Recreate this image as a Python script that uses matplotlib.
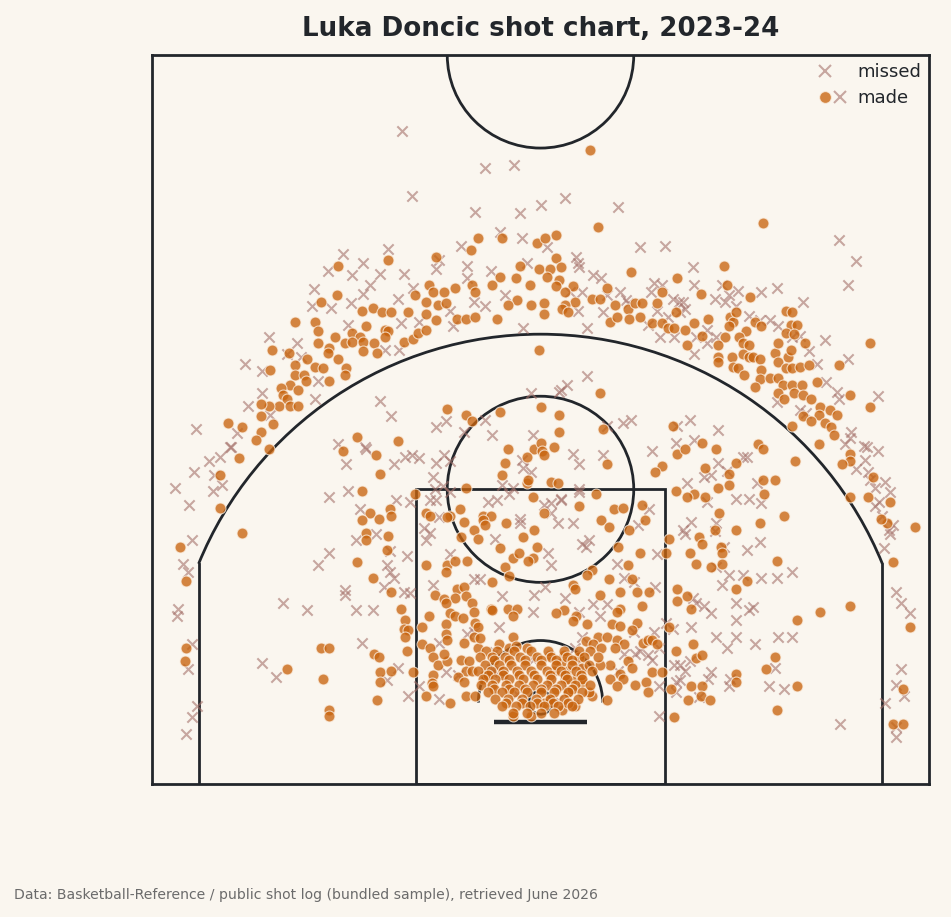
import numpy as np
import matplotlib.pyplot as plt
from matplotlib.patches import Circle, Rectangle, Arc
from matplotlib.lines import Line2D
from matplotlib.legend_handler import HandlerTuple

# court coordinates in feet: x across the baseline (0-50), y up from the baseline (0-47)

# ---- made shots ----
made_deep = [(28.2, 40.9), (39.3, 36.2), (28.7, 35.9)]
made_corners = [(5.8, 16.2), (1.8, 15.3), (2.2, 13.1), (2.2, 8.8), (2.1, 7.9),
                (49.1, 16.6), (47.7, 14.3), (48.8, 10.1), (48.3, 6.1), (47.7, 3.9),
                (48.3, 3.9), (44.9, 11.5), (47.3, 16.8)]
made_left_wing = [
    (12.0, 33.4), (15.2, 33.8), (18.3, 34.0), (20.5, 34.4), (21.0, 35.2), (22.5, 35.2),
    (23.7, 33.4), (11.9, 31.5), (10.9, 31.1), (13.5, 30.5), (14.2, 30.7), (14.8, 30.4),
    (15.4, 30.4), (16.5, 30.4), (16.9, 31.5), (17.8, 32.2), (18.1, 31.7), (18.8, 31.7),
    (19.5, 32.0), (20.6, 32.2), (20.8, 31.7), (21.9, 32.2), (22.4, 32.7), (23.4, 32.6),
    (23.5, 31.2), (24.3, 32.2), (24.4, 30.9), (17.6, 31.1), (18.4, 30.9), (18.9, 31.0),
    (17.6, 30.3), (18.3, 29.9), (19.6, 30.0), (20.2, 30.0), (20.8, 30.1), (22.2, 30.0),
    (22.9, 30.9), (9.2, 29.8), (10.5, 29.8), (10.7, 29.2), (11.8, 28.8), (10.7, 28.4),
    (11.4, 28.1), (12.9, 29.1), (13.4, 28.8), (13.8, 29.5), (12.4, 28.4), (12.9, 28.5),
    (13.6, 28.5), (14.3, 28.4), (15.0, 29.3), (15.2, 29.2), (15.0, 28.8), (16.2, 28.5),
    (16.8, 28.7), (17.1, 29.1), (17.6, 29.3), (14.5, 27.8), (13.6, 27.9), (12.0, 27.4),
    (11.3, 27.8), (7.7, 28.0), (8.8, 27.8), (10.0, 27.4), (10.5, 26.9), (11.0, 26.8),
    (9.2, 27.0), (12.5, 26.8), (12.4, 26.4), (11.4, 26.0), (9.2, 26.4), (9.8, 26.4),
    (9.9, 26.0), (8.9, 25.7), (9.4, 25.4), (8.3, 25.5), (8.4, 25.1), (8.7, 24.8),
    (7.6, 26.7), (8.2, 24.4), (8.9, 24.4), (9.4, 24.4), (7.5, 24.4), (7.0, 24.5),
    (7.0, 23.7), (7.8, 23.2), (4.9, 23.3), (5.8, 23.0), (7.0, 22.7), (6.7, 22.2),
    (7.5, 21.6), (19.0, 24.2), (20.2, 23.8), (20.6, 23.4), (22.4, 24.0), (22.9, 21.6),
    (13.2, 22.4), (15.8, 22.1), (12.3, 21.5), (14.4, 21.2), (24.9, 28.0), (24.8, 34.9),
    (24.9, 33.2), (5.6, 21.0), (4.4, 19.9), (4.4, 17.8)]
made_right_wing = [
    (26.0, 35.4), (25.3, 35.2), (26.0, 33.9), (26.3, 33.3), (25.6, 33.2), (25.4, 32.7),
    (26.2, 32.5), (26.0, 32.1), (27.1, 32.1), (26.6, 31.7), (27.2, 31.1), (26.6, 30.9),
    (26.4, 30.6), (26.8, 30.4), (25.2, 31.0), (25.2, 30.3), (30.8, 33.0), (29.3, 32.0),
    (28.3, 31.3), (28.8, 31.3), (29.8, 30.9), (29.5, 29.8), (29.9, 30.1), (30.6, 30.6),
    (30.7, 30.0), (31.1, 31.0), (31.5, 31.0), (31.4, 30.1), (32.5, 31.0), (32.8, 31.7),
    (33.8, 32.6), (33.7, 30.4), (32.2, 29.7), (32.8, 29.7), (33.2, 29.4), (33.6, 29.4),
    (34.3, 29.3), (34.9, 29.7), (35.4, 28.9), (34.4, 28.3), (35.3, 31.6), (36.8, 33.4),
    (37.0, 32.2), (38.5, 31.4), (37.2, 30.1), (37.4, 29.8), (37.6, 30.4), (35.8, 30.0),
    (37.1, 29.5), (38.2, 29.2), (36.9, 28.8), (36.4, 28.3), (37.8, 28.8), (38.0, 28.4),
    (38.4, 28.3), (38.8, 29.8), (39.2, 29.5), (40.8, 30.5), (41.2, 30.4), (41.1, 29.6),
    (41.5, 29.6), (40.8, 29.1), (41.3, 29.0), (36.4, 27.5), (36.4, 27.2), (37.3, 27.5),
    (37.4, 26.9), (37.7, 26.8), (38.0, 27.7), (38.4, 27.5), (38.7, 27.5), (38.1, 26.4),
    (39.1, 27.4), (39.2, 26.7), (39.1, 26.1), (38.8, 25.6), (39.8, 26.2), (40.3, 26.2),
    (40.1, 27.8), (40.3, 28.4), (40.9, 27.5), (41.1, 28.0), (42.0, 28.4), (40.3, 27.2),
    (40.8, 26.8), (41.2, 26.8), (41.7, 26.9), (42.3, 27.0), (40.6, 25.7), (41.2, 25.7),
    (41.8, 25.7), (41.3, 25.2), (41.9, 25.1), (40.3, 25.2), (40.7, 24.8), (42.4, 24.8),
    (42.8, 25.9), (43.0, 24.3), (43.6, 24.1), (42.9, 23.8), (43.3, 23.3), (43.7, 23.0),
    (43.9, 22.5), (44.1, 23.8), (44.2, 27.0), (44.9, 25.1), (46.2, 24.3), (46.2, 28.4),
    (41.2, 23.1), (41.9, 23.7), (42.4, 23.4), (42.9, 21.9), (44.9, 21.3), (28.8, 25.2),
    (26.2, 23.8), (26.2, 22.7), (25.9, 21.7), (29.0, 22.9), (33.5, 23.1), (35.4, 22.0),
    (36.3, 21.6), (39.0, 21.9), (39.3, 21.6), (33.8, 21.3), (34.3, 21.6), (32.8, 20.5),
    (41.4, 20.8), (44.9, 20.8), (44.4, 20.6), (44.9, 18.5), (46.1, 18.5), (46.4, 19.8),
    (47.5, 18.2), (46.9, 17.1)]
made_mid = [
    (25.0, 24.3), (24.6, 21.6), (25.0, 22.0), (25.1, 21.5), (25.2, 21.2), (24.1, 21.1),
    (22.7, 20.7), (22.5, 19.9), (24.1, 19.4), (24.2, 19.6), (25.7, 19.5), (26.1, 19.4),
    (29.3, 20.6), (20.2, 19.1), (24.5, 18.5), (27.5, 17.9), (28.6, 18.7), (29.7, 17.7),
    (30.3, 17.8), (31.5, 18.0), (32.4, 20.1), (19.8, 17.7), (19.2, 17.3), (21.3, 17.3),
    (21.8, 17.3), (25.2, 17.5), (8.7, 7.4), (10.9, 8.8), (11.4, 8.8), (11.0, 6.8),
    (11.4, 4.8), (11.4, 4.4), (14.7, 20.0), (13.5, 18.9), (14.0, 17.5), (14.6, 17.1),
    (13.5, 17.0), (13.8, 16.2), (13.8, 15.7), (15.3, 17.7), (15.4, 17.3), (15.2, 16.0),
    (15.1, 15.1), (13.2, 14.3), (14.2, 13.3), (15.4, 12.4), (16.0, 11.3), (16.3, 10.6),
    (16.2, 10.0), (16.5, 9.9), (16.3, 9.5), (16.4, 8.6), (14.3, 8.4), (14.6, 8.2),
    (14.7, 7.2), (14.7, 6.6), (15.4, 7.3), (16.8, 7.2), (14.5, 5.4), (16.9, 18.7),
    (17.6, 17.5), (17.9, 17.3), (19.0, 17.2), (20.1, 16.9), (20.7, 16.4), (21.0, 15.8),
    (19.9, 15.9), (22.8, 16.8), (21.3, 17.0), (21.4, 16.7), (22.4, 15.2), (23.2, 14.6),
    (23.6, 14.9), (22.7, 14.0), (23.0, 13.4), (23.9, 15.9), (24.5, 14.6), (24.2, 14.4),
    (24.6, 16.4), (24.8, 15.3), (40.7, 17.3), (40.2, 14.4), (39.1, 16.8), (39.3, 19.6),
    (40.1, 19.6), (39.4, 18.7), (37.1, 20.0), (37.1, 19.3), (37.6, 20.7), (35.6, 20.4),
    (36.4, 19.1), (35.6, 18.5), (34.9, 18.7), (34.4, 18.5), (33.7, 18.9), (36.5, 17.5),
    (36.2, 16.4), (37.6, 16.4), (36.6, 15.3), (36.7, 14.9), (36.7, 14.2), (36.0, 14.0),
    (35.0, 14.2), (34.6, 14.9), (35.2, 15.9), (35.4, 15.5), (33.3, 15.8), (33.1, 14.9),
    (43.0, 11.1), (41.5, 10.6), (41.5, 6.3), (40.2, 4.8), (40.1, 8.2), (39.5, 7.4)]
made_paint = [
    (17.6, 14.1), (19.0, 14.1), (18.9, 13.7), (19.5, 14.4), (20.3, 14.4), (19.6, 12.6),
    (20.1, 12.7), (19.5, 12.0), (20.2, 12.1), (18.2, 12.2), (18.8, 11.9), (18.9, 11.7),
    (21.9, 13.0), (21.8, 11.3), (21.9, 11.2), (22.9, 11.3), (23.5, 11.3), (23.2, 10.8),
    (20.6, 11.7), (20.7, 11.1), (20.8, 10.4), (21.0, 10.1), (20.7, 9.5), (21.0, 8.8),
    (21.1, 9.4), (20.1, 9.1), (19.2, 11.0), (19.5, 10.8), (20.0, 10.7), (17.8, 10.8),
    (17.4, 10.1), (18.9, 10.3), (18.9, 9.7), (19.0, 9.3), (17.4, 9.0), (17.9, 8.8),
    (18.1, 8.2), (18.4, 7.7), (19.0, 7.9), (18.8, 8.4), (19.9, 8.0), (20.4, 7.9),
    (20.2, 7.3), (20.6, 7.3), (19.7, 6.9), (20.1, 6.6), (18.1, 7.0), (18.0, 6.5),
    (18.1, 6.3), (17.6, 5.7), (19.2, 5.2), (20.2, 5.7), (20.8, 5.7), (22.3, 9.0),
    (23.0, 8.8), (24.1, 8.8), (23.2, 9.5), (23.4, 8.9), (23.2, 4.4), (24.4, 4.4),
    (21.4, 7.0), (33.8, 12.6), (33.8, 11.8), (34.4, 12.1), (34.7, 11.3), (33.3, 10.1),
    (37.6, 12.6), (38.3, 13.1), (33.7, 8.6), (34.8, 9.0), (35.0, 8.1), (35.4, 8.3),
    (37.6, 7.1), (37.6, 6.6), (34.7, 6.3), (35.4, 6.3), (35.3, 5.7), (34.5, 5.4),
    (35.9, 5.4), (33.4, 6.1), (33.6, 4.3), (31.7, 17.0), (28.9, 17.0), (29.4, 16.6),
    (30.7, 16.4), (30.0, 15.3), (31.4, 14.9), (30.6, 14.1), (28.3, 13.8), (28.0, 13.5),
    (29.4, 13.2), (30.9, 13.2), (27.1, 12.8), (27.2, 12.6), (30.1, 12.4), (31.2, 12.4),
    (32.0, 12.4), (28.8, 12.2), (31.5, 11.5), (30.1, 11.3), (29.9, 11.1), (27.3, 10.8),
    (27.1, 10.5), (26.5, 11.2), (26.0, 11.0), (28.0, 10.3), (29.6, 10.3), (30.1, 10.2),
    (31.2, 10.4), (30.9, 9.9), (28.7, 9.5), (29.3, 9.5), (29.9, 9.3), (30.4, 9.0),
    (27.9, 9.2), (28.4, 9.0), (28.9, 8.8), (29.8, 8.8), (31.6, 9.1), (31.9, 9.3),
    (32.2, 9.3), (32.5, 9.0), (30.6, 7.9), (29.5, 7.7), (28.8, 7.7), (27.7, 7.5),
    (27.5, 8.2), (26.5, 8.3), (25.6, 8.3), (26.3, 7.8), (25.9, 7.3), (26.7, 7.3),
    (27.3, 6.8), (27.7, 6.6), (26.6, 6.8), (29.5, 6.8), (30.1, 7.1), (30.3, 6.8),
    (29.9, 6.3), (30.9, 7.5), (31.1, 6.4), (31.8, 6.6), (32.2, 7.2), (32.8, 7.2),
    (31.9, 5.9), (29.3, 5.4), (28.3, 5.7), (28.1, 5.9), (26.8, 5.9), (26.4, 4.8),
    (27.2, 5.0), (25.6, 5.4), (25.2, 5.2)]
# dense cluster under the rim, one row per height
rim_rows = [
    (8.6, [21.5, 22.2, 23.3, 24.4, 25.5, 26.5, 27.5, 28.2]),
    (8.2, [21.1, 21.9, 22.7, 23.7, 24.8, 25.7, 26.7, 27.8, 28.7]),
    (8.0, [22.0, 23.0, 24.0, 25.0, 26.0, 27.0]),
    (7.7, [21.4, 22.3, 23.1, 24.0, 25.0, 26.0, 27.0, 28.1]),
    (7.3, [21.0, 21.8, 22.6, 23.5, 24.4, 25.4, 26.3, 27.3, 28.3]),
    (7.0, [21.6, 22.6, 23.6, 24.6, 25.6, 26.6, 27.6]),
    (6.8, [21.3, 22.1, 23.0, 23.9, 24.8, 25.7, 26.7, 27.7]),
    (6.4, [21.2, 21.9, 22.8, 23.6, 24.5, 25.4, 26.3, 27.2, 28.2]),
    (6.1, [22.0, 23.0, 24.0, 25.0, 26.0, 27.0]),
    (5.9, [21.6, 22.5, 23.3, 24.1, 25.0, 25.9, 26.8, 27.7]),
    (5.5, [22.1, 22.9, 23.8, 24.7, 25.6, 26.5, 27.4]),
    (5.2, [22.8, 23.8, 24.8, 25.8, 26.8]),
    (5.0, [22.5, 23.4, 24.3, 25.2, 26.1, 27.0]),
    (4.6, [23.2, 24.1, 25.0, 25.9])]

# ---- missed shots ----
miss_deep = [
    (16.1, 42.1), (23.3, 39.9), (21.4, 39.7), (16.7, 37.9), (26.6, 37.8), (25.0, 37.3),
    (23.7, 36.8), (30.0, 37.2), (20.8, 36.9), (44.2, 35.1), (45.3, 33.7), (44.8, 32.2),
    (33.0, 34.7), (31.4, 34.6), (22.4, 35.6), (19.9, 34.7), (23.8, 35.2)]
miss_corners = [
    (2.6, 15.7), (2.0, 14.2), (2.3, 13.7), (1.7, 11.3), (1.6, 10.8), (2.6, 9.0),
    (2.3, 7.4), (2.9, 5.0), (2.6, 4.3), (2.2, 3.2), (7.1, 7.8), (5.0, 21.7),
    (3.7, 20.8), (4.4, 21.1), (2.7, 20.1), (4.0, 19.9), (1.5, 19.1), (3.9, 18.9),
    (4.5, 19.3), (2.4, 18.0), (47.9, 12.4), (48.2, 11.7), (48.8, 11.0), (48.2, 7.4),
    (47.9, 6.4), (48.4, 5.7), (47.2, 5.2), (47.9, 3.0), (47.9, 3.7), (47.1, 15.2),
    (47.4, 16.4), (44.3, 3.9), (47.5, 16.1), (47.7, 16.7), (47.0, 17.3), (46.5, 17.9),
    (46.8, 18.2), (47.5, 18.8), (46.5, 19.1), (46.2, 19.6), (47.2, 19.5), (46.1, 20.1),
    (45.3, 20.3), (45.9, 20.9), (46.0, 21.7)]
miss_left_wing = [
    (12.3, 34.2), (15.2, 34.5), (18.5, 33.8), (18.3, 33.2), (20.3, 33.4), (11.3, 33.1),
    (13.6, 33.6), (12.9, 32.8), (14.7, 32.9), (16.2, 32.9), (14.0, 32.2), (21.8, 33.1),
    (24.1, 33.6), (10.4, 31.9), (10.3, 30.8), (11.5, 30.7), (12.8, 31.0), (13.6, 31.6),
    (15.8, 31.3), (16.8, 32.0), (20.3, 32.6), (20.7, 31.1), (21.4, 30.8), (22.7, 31.5),
    (19.2, 30.5), (19.4, 29.5), (23.9, 29.4), (12.6, 29.6), (16.0, 29.7), (17.2, 29.8),
    (15.0, 28.0), (15.9, 28.0), (9.3, 28.4), (7.5, 28.8), (8.7, 27.7), (7.1, 26.6),
    (6.0, 27.1), (9.6, 27.5), (10.7, 26.0), (10.5, 24.8), (7.1, 25.2), (6.2, 24.4),
    (7.6, 23.8), (5.5, 22.6), (5.1, 21.7), (2.8, 22.9), (14.7, 24.7), (15.4, 23.7),
    (18.3, 23.0), (18.9, 23.4), (24.4, 25.2), (21.9, 22.5), (24.5, 22.5), (12.0, 21.9),
    (13.7, 21.7), (16.7, 21.2), (18.8, 21.2)]
miss_right_wing = [
    (34.8, 33.3), (34.9, 32.2), (40.2, 32.0), (41.9, 31.1), (39.2, 31.7), (37.7, 31.8),
    (36.7, 32.2), (36.2, 31.3), (37.1, 31.5), (32.3, 32.3), (32.8, 32.2), (30.1, 31.7),
    (30.5, 31.2), (32.1, 31.7), (33.5, 31.3), (34.2, 31.1), (34.0, 30.4), (33.2, 30.1),
    (32.5, 30.5), (31.9, 29.6), (32.7, 28.8), (33.6, 28.8), (34.9, 27.7), (35.0, 28.8),
    (35.7, 28.4), (35.7, 29.3), (36.3, 28.8), (36.9, 31.1), (37.6, 30.8), (38.4, 30.2),
    (39.1, 29.9), (39.8, 29.9), (40.3, 29.5), (41.2, 28.8), (41.7, 28.9), (42.3, 27.9),
    (43.3, 28.6), (44.8, 27.4), (42.8, 27.1), (43.4, 25.9), (44.1, 25.3), (44.2, 24.8),
    (46.7, 25.0), (45.0, 22.7), (44.9, 22.3), (45.8, 21.8), (46.7, 21.5), (44.6, 21.9),
    (40.2, 24.6), (41.7, 24.1), (42.1, 23.9), (28.0, 26.3), (26.7, 25.7), (26.3, 25.4),
    (28.0, 29.4), (27.4, 33.6), (27.3, 34.0), (28.4, 32.8), (28.9, 32.6), (27.5, 33.3),
    (27.7, 31.7), (29.3, 31.5), (29.0, 30.4), (30.6, 31.0), (25.4, 34.6), (27.4, 30.5),
    (26.9, 31.7), (34.3, 30.6), (33.9, 31.1), (33.8, 23.1), (34.6, 23.5), (36.4, 22.8),
    (34.9, 22.2), (33.7, 22.0), (32.2, 21.5), (30.3, 23.3), (30.8, 23.5), (27.1, 21.3),
    (29.0, 21.2), (26.2, 25.3)]
miss_mid = [
    (20.1, 22.7), (21.4, 23.5), (29.3, 23.1), (27.5, 20.6), (23.8, 20.9), (23.9, 20.4),
    (24.4, 20.1), (18.3, 20.7), (19.2, 20.8), (22.5, 19.3), (23.2, 19.1), (27.5, 18.8),
    (25.2, 18.0), (21.6, 18.2), (22.2, 18.3), (26.3, 18.3), (25.7, 17.5), (18.1, 19.8),
    (18.3, 18.3), (19.2, 18.8), (11.4, 18.5), (11.4, 14.9), (10.7, 14.1), (8.4, 11.7),
    (10.0, 11.2), (8.0, 6.9), (12.5, 20.6), (13.8, 21.6), (12.6, 18.9), (13.4, 17.7),
    (13.1, 15.7), (14.4, 16.1), (15.6, 20.6), (16.3, 21.1), (17.2, 21.0), (15.7, 18.3),
    (16.6, 18.2), (15.3, 15.0), (15.1, 14.1), (15.3, 13.7), (15.6, 13.3), (14.9, 12.7),
    (16.4, 14.7), (12.4, 12.5), (12.4, 12.2), (13.1, 11.2), (14.2, 11.2), (13.5, 9.1),
    (16.2, 12.4), (16.6, 12.3), (15.8, 7.5), (15.1, 6.7), (16.5, 5.7), (18.7, 19.2),
    (18.2, 19.0), (17.9, 18.3), (23.0, 18.7), (38.0, 21.1), (38.3, 21.1), (36.4, 20.7),
    (37.0, 20.2), (36.0, 19.9), (34.4, 19.4), (35.5, 19.8), (35.7, 18.2), (37.6, 18.4),
    (38.4, 18.4), (38.9, 19.4), (39.2, 18.1), (34.7, 16.9), (34.2, 16.4), (34.3, 16.1),
    (36.3, 16.8), (36.2, 16.3), (36.8, 15.3), (38.3, 15.1), (39.1, 15.6), (36.3, 14.0),
    (37.1, 13.5), (36.7, 12.8), (38.0, 13.5), (39.2, 13.3), (40.2, 13.3), (41.2, 13.7),
    (37.6, 11.7), (38.4, 11.2), (38.7, 11.4), (37.6, 10.6), (36.3, 9.5), (37.6, 9.5),
    (37.0, 8.8), (38.8, 9.0), (40.3, 9.5), (41.2, 9.5), (40.1, 7.5), (39.7, 6.3),
    (40.7, 6.1), (37.1, 6.3), (37.2, 6.8)]
miss_paint = [
    (17.2, 6.3), (18.5, 5.5), (22.5, 12.1), (23.7, 17.1), (23.7, 16.8), (22.1, 15.8),
    (18.5, 17.2), (17.5, 16.5), (17.9, 16.2), (17.6, 15.7), (19.2, 14.8), (20.7, 13.2),
    (21.1, 13.2), (18.1, 12.8), (24.6, 12.2), (24.5, 11.1), (22.3, 10.1), (20.7, 9.8),
    (20.3, 9.7), (22.3, 7.3), (21.9, 7.2), (18.5, 9.1), (18.9, 7.2), (19.7, 7.0),
    (34.8, 12.0), (35.0, 11.7), (35.5, 11.5), (36.0, 11.0), (34.7, 10.1), (36.0, 7.2),
    (35.8, 6.8), (35.2, 5.6), (34.3, 7.3), (34.0, 7.7), (33.6, 7.7), (34.6, 7.9),
    (34.0, 6.7), (33.7, 6.6), (32.6, 4.4), (27.5, 19.0), (26.3, 18.4), (25.7, 18.1),
    (27.1, 16.8), (26.1, 16.8), (27.7, 15.5), (27.9, 15.3), (28.1, 15.7), (25.5, 14.9),
    (25.7, 14.1), (29.9, 14.2), (30.4, 13.3), (31.0, 13.0), (32.5, 14.8), (31.3, 16.7),
    (32.0, 17.7), (32.4, 12.7), (33.1, 10.4), (33.5, 10.0), (25.3, 12.7), (26.6, 12.0),
    (27.5, 11.1), (28.4, 11.6), (28.8, 10.8), (29.3, 11.6), (32.3, 9.8), (31.0, 9.8),
    (27.7, 9.5), (31.4, 8.6), (31.9, 8.3), (32.2, 8.0), (32.6, 8.8), (27.2, 8.8),
    (31.1, 8.4), (30.4, 8.4), (27.1, 5.1), (26.1, 5.4), (33.7, 5.9), (32.6, 6.3),
    (30.0, 7.3), (21.9, 7.4), (22.6, 7.0), (24.5, 8.0), (26.8, 6.2), (23.5, 5.8),
    (25.7, 6.6), (27.5, 7.8), (22.1, 8.5)]

made_pts = made_deep + made_corners + made_left_wing + made_right_wing + made_mid + made_paint
for y, xs in rim_rows:
    made_pts += [(x, y) for x in xs]
miss_pts = miss_deep + miss_corners + miss_left_wing + miss_right_wing + miss_mid + miss_paint

made = np.array(made_pts)
miss = np.array(miss_pts)

bg = '#faf6ef'
ink = '#22262b'
made_col = '#c8640f'
miss_col = '#a5726b'

fig = plt.figure(figsize=(9.51, 9.17), dpi=100, facecolor=bg)
ax = fig.add_axes([152/951, 133/917, 777/951, 729/917])
ax.set_facecolor(bg)
ax.set_xlim(0, 50)
ax.set_ylim(0, 47)
ax.set_xticks([])
ax.set_yticks([])
for sp in ax.spines.values():
    sp.set_color(ink)
    sp.set_linewidth(2.0)

# court lines
lw = 2.0
ax.add_patch(Rectangle((17, 0), 16, 19, fill=False, ec=ink, lw=lw))
ax.add_patch(Circle((25, 19), 6, fill=False, ec=ink, lw=lw))
ax.add_patch(Circle((25, 5.25), 0.75, fill=False, ec=ink, lw=lw))
ax.plot([22, 28], [4, 4], color=ink, lw=3.2, solid_capstyle='butt')
ax.add_patch(Arc((25, 5.25), 8, 8, theta1=0, theta2=180, ec=ink, lw=lw))
corner_top = 5.25 + np.sqrt(23.75**2 - 22**2)
ang = np.degrees(np.arctan2(corner_top - 5.25, 22))
ax.plot([3, 3], [0, corner_top], color=ink, lw=lw)
ax.plot([47, 47], [0, corner_top], color=ink, lw=lw)
ax.add_patch(Arc((25, 5.25), 47.5, 47.5, theta1=ang, theta2=180 - ang, ec=ink, lw=lw))
ax.add_patch(Circle((25, 47), 6, fill=False, ec=ink, lw=lw))

# shots
ax.scatter(miss[:, 0], miss[:, 1], marker='x', s=55, color=miss_col, alpha=0.6,
           linewidths=1.5, zorder=3)
ax.scatter(made[:, 0], made[:, 1], marker='o', s=62, color=made_col, alpha=0.78,
           edgecolors='#fbeee0', linewidths=0.8, zorder=4)

# legend
h_miss = Line2D([], [], marker='x', linestyle='none', color=miss_col, alpha=0.6,
                markersize=8, markeredgewidth=1.5)
h_made = Line2D([], [], marker='o', linestyle='none', color=made_col, alpha=0.78,
                markersize=8.5, markeredgecolor='#fbeee0', markeredgewidth=0.8)
h_blank = Line2D([], [], linestyle='none')
ax.legend([(h_miss, h_blank), (h_made, h_miss)], ['missed', 'made'],
          handler_map={tuple: HandlerTuple(ndivide=None, pad=0.0)},
          loc='upper right', frameon=False, fontsize=13,
          handlelength=1.6, handletextpad=0.55, borderaxespad=0.05,
          labelspacing=0.45, labelcolor=ink)

ax.set_title('Luka Doncic shot chart, 2023-24', fontsize=18.8, fontweight='bold',
             color=ink, pad=14)
fig.text(14/951, 22/917, 'Data: Basketball-Reference / public shot log (bundled sample), '
         'retrieved June 2026', fontsize=10.1, color='#6b6b6b', va='center', ha='left')

fig.savefig('out.png', dpi=100, facecolor=bg)
